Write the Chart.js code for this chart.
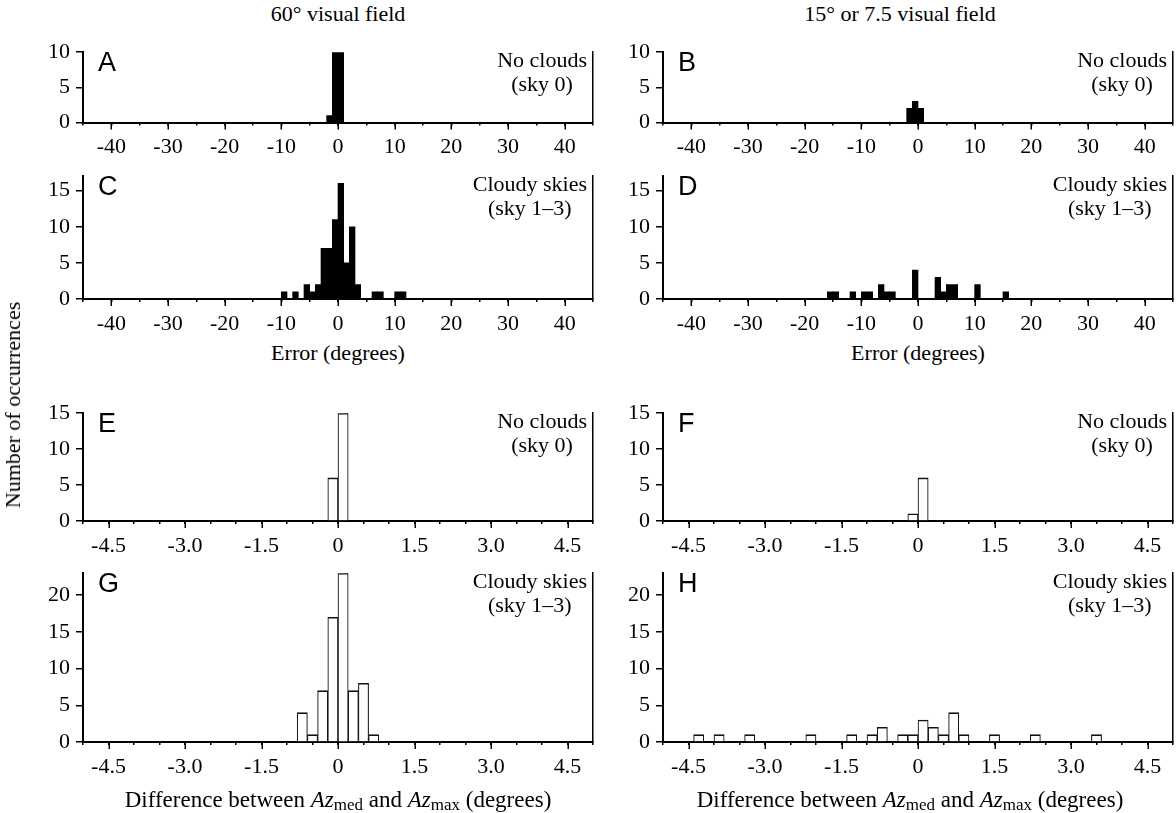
<!DOCTYPE html>
<html><head><meta charset="utf-8">
<script src="https://cdn.jsdelivr.net/npm/chart.js@4.4.1/dist/chart.umd.min.js"></script>
<style>
html,body{margin:0;padding:0;background:#fff;overflow:hidden;width:1176px;height:813px;}
body{position:relative;font-family:"Liberation Serif","Times New Roman",serif;color:#000;}
.box{position:absolute;}
.t{position:absolute;font-size:22px;line-height:24px;white-space:nowrap;}
.t.big{font-size:23px;}
.let{position:absolute;font-family:"Liberation Sans",Arial,sans-serif;font-size:27px;line-height:27px;}
.blk{position:absolute;font-size:22px;line-height:24px;text-align:center;white-space:nowrap;}
sub{font-size:17px;vertical-align:-3px;line-height:0;}
</style></head><body>
<script>
// ---------- data (bin centres and counts) ----------
const errTickLabels  = ['-40','-30','-20','-10','0','10','20','30','40'];
const diffTickLabels = ['-4.5','-3.0','-1.5','0','1.5','3.0','4.5'];

const A_bins = [-1.5, -0.5, 0.5];
const A_counts = [1, 10, 10];
const B_bins = [-1.5, -0.5, 0.5];
const B_counts = [2, 3, 2];
const C_bins = [-9.5, -7.5, -5.5, -4.5, -3.5, -2.5, -1.5, -0.5, 0.5, 1.5, 2.5, 3.5, 6.5, 7.5, 10.5, 11.5];
const C_counts = [1, 1, 2, 1, 2, 7, 7, 11, 16, 5, 10, 2, 1, 1, 1, 1];
const D_bins = [-15.5, -14.5, -11.5, -9.5, -8.5, -6.5, -5.5, -4.5, -0.5, 3.5, 4.5, 5.5, 6.5, 10.5, 15.5];
const D_counts = [1, 1, 1, 1, 1, 2, 1, 1, 4, 3, 1, 2, 2, 2, 1];
const E_bins = [-0.1, 0.1];
const E_counts = [6, 15];
const F_bins = [-0.1, 0.1];
const F_counts = [1, 6];
const G_bins = [-0.7, -0.5, -0.3, -0.1, 0.1, 0.3, 0.5, 0.7];
const G_counts = [4, 1, 7, 17, 23, 7, 8, 1];
const H_bins = [-4.3, -3.9, -3.3, -2.1, -1.3, -0.9, -0.7, -0.3, -0.1, 0.1, 0.3, 0.5, 0.7, 0.9, 1.5, 2.3, 3.5];
const H_counts = [1, 1, 1, 1, 1, 1, 2, 1, 1, 3, 2, 1, 4, 1, 1, 1, 1];

// ---------- layout ----------
const SERIF = '"Liberation Serif","Times New Roman",serif';
const COL_LEFT = [0, 580];
const PLOT_L = 83, PLOT_W = 516, BOX_W = PLOT_L + PLOT_W + 3;
const PAD_TOP = 14, XH = 40;

const majorTicks = {
  id: 'majorTicks',
  afterDraw(chart) {
    const s = chart.scales.x, ctx = chart.ctx, b = chart.chartArea.bottom;
    ctx.save();
    ctx.strokeStyle = '#000'; ctx.lineWidth = 1.5;
    s.ticks.forEach(t => {
      if (t.label !== '' && t.label !== undefined) {
        const px = Math.round(s.getPixelForValue(t.value)) + 0.25;
        ctx.beginPath(); ctx.moveTo(px, b); ctx.lineTo(px, b + 7); ctx.stroke();
      }
    });
    ctx.restore();
  }
};

function labelFor(list, v) {
  for (const l of list) if (Math.abs(parseFloat(l) - v) < 1e-6) return l;
  return '';
}

function makeChart(c) {
  const div = document.createElement('div');
  div.className = 'box';
  div.style.left = c.left + 'px';
  div.style.top = (c.plotTop - PAD_TOP) + 'px';
  div.style.width = BOX_W + 'px';
  div.style.height = (c.plotBottom - c.plotTop + PAD_TOP + XH) + 'px';
  const cv = document.createElement('canvas');
  div.appendChild(cv);
  document.body.appendChild(div);
  const font = {family: SERIF, size: 22};
  const ds = {
    data: c.bins.map((b, i) => ({x: b, y: c.counts[i]})),
    barPercentage: 1, categoryPercentage: 1,
    backgroundColor: c.filled ? '#000' : '#fff',
    borderColor: '#111',
    borderWidth: c.filled ? 0 : {top: 1.6, left: 1.1, right: 1.1, bottom: 0},
    borderSkipped: 'start'
  };
  new Chart(cv, {
    type: 'bar',
    data: {datasets: [ds]},
    options: {
      responsive: true, maintainAspectRatio: false, animation: false,
      layout: {padding: {top: PAD_TOP, right: 3, left: 0, bottom: 0}},
      plugins: {legend: {display: false}, tooltip: {enabled: false}},
      scales: {
        x: {
          type: 'linear', min: c.xmin, max: c.xmax, offset: false,
          ticks: {stepSize: c.step, autoSkip: false, maxRotation: 0, minRotation: 0, padding: 9,
                  font, color: '#000', callback: v => labelFor(c.tickLabels, v)},
          grid: {drawOnChartArea: false, offset: false, tickLength: 3, color: '#000', lineWidth: 1.5},
          border: {color: '#000', width: 2},
          afterFit: s => { s.height = XH; }
        },
        y: {
          min: 0, max: c.ymax,
          ticks: {stepSize: 5, includeBounds: false, padding: 6, font, color: '#000'},
          grid: {drawOnChartArea: false, tickLength: 7, color: '#000', lineWidth: 1.5},
          border: {color: '#000', width: 2},
          afterFit: s => { s.width = PLOT_L; }
        },
        y2: {
          position: 'right', min: 0, max: c.ymax, display: true,
          ticks: {display: false}, grid: {display: false},
          border: {display: true, color: '#000', width: 1.5},
          afterFit: s => { s.width = 0; }
        }
      }
    },
    plugins: [majorTicks]
  });

  // panel letter
  const L = document.createElement('div');
  L.className = 'let';
  L.textContent = c.letter;
  L.style.left = (c.left + PLOT_L + 15) + 'px';
  L.style.top = (c.plotTop + 15 - 13) + 'px';
  document.body.appendChild(L);
  // annotation block
  const B = document.createElement('div');
  B.className = 'blk';
  B.innerHTML = c.note[0] + '<br>' + c.note[1];
  B.style.right = (1176 - (c.left + PLOT_L + PLOT_W - 12)) + 'px';
  B.style.top = (c.plotTop + 13 - 12) + 'px';
  document.body.appendChild(B);
}

function addText(html, x, y, extra, cls) {
  const d = document.createElement('div');
  d.className = 't' + (cls ? ' ' + cls : '');
  d.innerHTML = html;
  d.style.left = x + 'px';
  d.style.top = y + 'px';
  d.style.transform = 'translate(-50%,-50%)' + (extra || '');
  document.body.appendChild(d);
}

const err = {xmin: -45, xmax: 45, step: 5, tickLabels: errTickLabels};
const dif = {xmin: -5, xmax: 5, step: 0.5, tickLabels: diffTickLabels};
const noCl = ['No clouds', '(sky 0)'];
const cl = ['Cloudy skies', '(sky 1–3)'];

makeChart(Object.assign({letter: 'A', left: COL_LEFT[0], plotTop: 46.5, plotBottom: 122, ymax: 10, bins: A_bins, counts: A_counts, filled: true, note: noCl}, err));
makeChart(Object.assign({letter: 'B', left: COL_LEFT[1], plotTop: 46.5, plotBottom: 122, ymax: 10, bins: B_bins, counts: B_counts, filled: true, note: noCl}, err));
makeChart(Object.assign({letter: 'C', left: COL_LEFT[0], plotTop: 171, plotBottom: 299, ymax: 17, bins: C_bins, counts: C_counts, filled: true, note: cl}, err));
makeChart(Object.assign({letter: 'D', left: COL_LEFT[1], plotTop: 171, plotBottom: 299, ymax: 17, bins: D_bins, counts: D_counts, filled: true, note: cl}, err));
makeChart(Object.assign({letter: 'E', left: COL_LEFT[0], plotTop: 407.5, plotBottom: 520.5, ymax: 15, bins: E_bins, counts: E_counts, filled: false, note: noCl}, dif));
makeChart(Object.assign({letter: 'F', left: COL_LEFT[1], plotTop: 407.5, plotBottom: 520.5, ymax: 15, bins: F_bins, counts: F_counts, filled: false, note: noCl}, dif));
makeChart(Object.assign({letter: 'G', left: COL_LEFT[0], plotTop: 568, plotBottom: 742, ymax: 23, bins: G_bins, counts: G_counts, filled: false, note: cl}, dif));
makeChart(Object.assign({letter: 'H', left: COL_LEFT[1], plotTop: 568, plotBottom: 742, ymax: 23, bins: H_bins, counts: H_counts, filled: false, note: cl}, dif));

addText('60° visual field', 338, 14);
addText('15° or 7.5 visual field', 900, 14);
addText('Error (degrees)', 338, 353);
addText('Error (degrees)', 918, 353);
const azLabel = 'Difference between <i>Az</i><sub>med</sub> and <i>Az</i><sub>max</sub> (degrees)';
addText(azLabel, 338, 800, '', 'big');
addText(azLabel, 910, 800, '', 'big');
addText('Number of occurrences', 13, 405, ' rotate(-90deg)');
</script>
</body></html>
